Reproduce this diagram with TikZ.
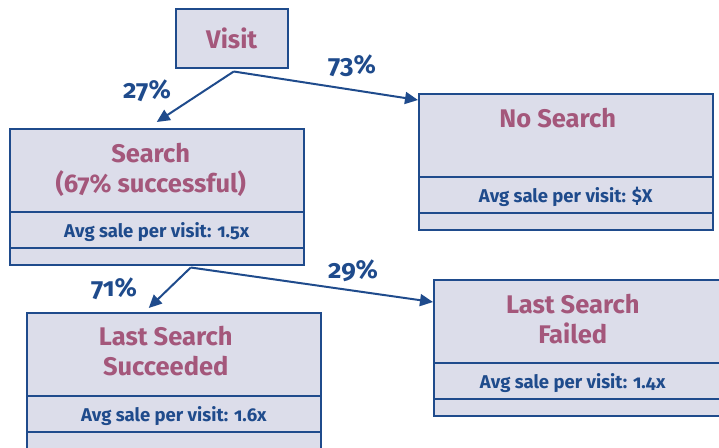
\documentclass[tikz,border=0pt]{standalone}
\usepackage{fontspec}
\setmainfont{Fira Sans}[Numbers=OldStyle]
\usetikzlibrary{arrows.meta}

\definecolor{boxfill}{HTML}{DCDDEA}
\definecolor{lineblue}{HTML}{1F4B8C}
\definecolor{titlerose}{HTML}{A4577B}

\tikzset{
  statebox/.style={draw=lineblue, line width=1.5pt, fill=boxfill,
    minimum width=294pt, minimum height=136pt, anchor=north west, inner sep=0pt},
  boxtitle/.style={text=titlerose, font=\bfseries\fontsize{25.5}{30}\selectfont,
    align=center, inner sep=0pt, anchor=north},
  avgline/.style={text=lineblue, font=\bfseries\fontsize{18.5}{22}\selectfont,
    inner sep=0pt, anchor=base},
  pct/.style={text=lineblue, font=\bfseries\fontsize{26}{30}\selectfont,
    inner sep=0pt, anchor=base},
  flow/.style={draw=lineblue, line width=2pt, -{Triangle[length=13pt,width=12pt]}},
  divider/.style={draw=lineblue, line width=1.5pt}
}

\begin{document}
\begin{tikzpicture}[x=1pt,y=1pt]
  \useasboundingbox (0,0) rectangle (719,-447);
  \clip (0,0) rectangle (719,-447);

  % start
  \node[draw=lineblue, line width=1.5pt, fill=boxfill, minimum width=112pt,
        minimum height=59pt, anchor=north west, inner sep=0pt, text=titlerose,
        font=\bfseries\fontsize{25.5}{30}\selectfont] (visit) at (175,-8) {Visit};

  % the four outcome boxes
  \node[statebox] (search) at (9,-128) {};
  \node[statebox] (nosearch) at (418,-93) {};
  \node[statebox] (succeeded) at (26,-312) {};
  \node[statebox] (failed) at (433,-279) {};

  \foreach \b in {search,nosearch,succeeded,failed} {
    \draw[divider] ([yshift=-84pt]\b.north west) -- ([yshift=-84pt]\b.north east);
    \draw[divider] ([yshift=-120pt]\b.north west) -- ([yshift=-120pt]\b.north east);
  }

  \node[boxtitle] (searchtitle) at ([xshift=-6pt,yshift=-15pt]search.north)
    {Search\\(67\% successful)};
  \node[boxtitle] (nosearchtitle) at ([xshift=-8pt,yshift=-15pt]nosearch.north)
    {No Search};
  \node[boxtitle] (succeededtitle) at ([xshift=-8pt,yshift=-14pt]succeeded.north)
    {Last Search\\Succeeded};
  \node[boxtitle] (failedtitle) at ([xshift=-8pt,yshift=-15pt]failed.north)
    {Last Search\\Failed};

  \node[avgline] (searchavg) at ([yshift=-109pt]search.north) {Avg sale per visit: 1.5x};
  \node[avgline] (nosearchavg) at ([yshift=-109pt]nosearch.north) {Avg sale per visit: \$X};
  \node[avgline] (succeededavg) at ([yshift=-109pt]succeeded.north) {Avg sale per visit: 1.6x};
  \node[avgline] (failedavg) at ([xshift=-8pt,yshift=-109pt]failed.north) {Avg sale per visit: 1.4x};

  % arrows
  \coordinate (split) at ([xshift=34pt,yshift=-2pt]search.south);
  \draw[flow] ([xshift=2pt,yshift=-3pt]visit.south) -- ([yshift=6pt]search.north);
  \draw[flow] ([xshift=2pt,yshift=-3pt]visit.south) -- ([yshift=-7pt]nosearch.north west);
  \draw[flow] (split) -- ([xshift=-25pt,yshift=4pt]succeeded.north);
  \draw[flow] (split) -- ([yshift=-23pt]failed.north west);

  \node[pct] (visitsearch) at (147,-98) {27\%};
  \node[pct] (visitnosearch) at (352,-73) {73\%};
  \node[pct] (searchsucceeded) at (114,-296) {71\%};
  \node[pct] (searchfailed) at (353,-278) {29\%};
\end{tikzpicture}
\end{document}
